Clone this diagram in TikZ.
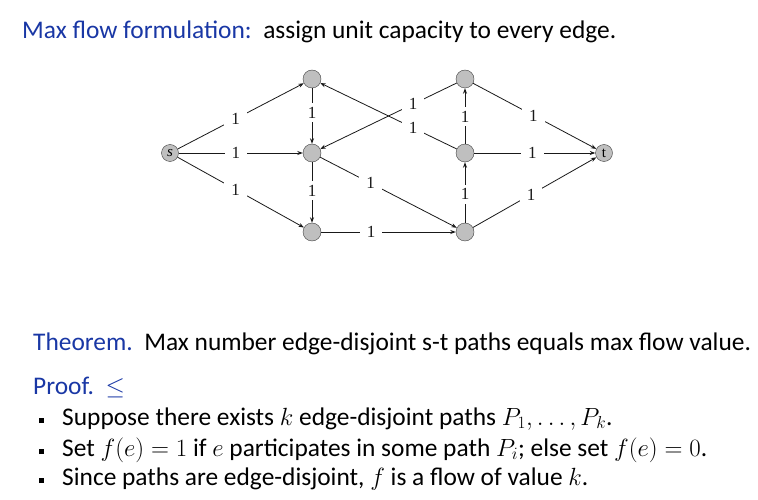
\documentclass[tikz,border=0pt]{standalone}
\usepackage{amsmath}
\usepackage{fontspec}
\setmainfont{Carlito}
\newfontfamily\lblfont{Liberation Serif}
\usetikzlibrary{arrows.meta,positioning}
\definecolor{ttlblue}{RGB}{25,55,165}
\newcommand{\sqbullet}{\makebox[23pt][l]{\rule[2pt]{4.5pt}{5pt}}}

\begin{document}
\begin{tikzpicture}[x=1pt,y=-1pt,
		vertex/.style={circle, draw=black!75, fill=gray!50, minimum size=18pt, inner sep=0pt},
		term/.style={vertex, minimum size=17pt, font=\lblfont\fontsize{15}{15}\selectfont},
		lbl/.style={fill=white, inner xsep=7pt, inner ysep=4pt, font=\lblfont\fontsize{17}{17}\selectfont},
		txt/.style={anchor=base west, inner sep=0pt, font=\fontsize{25.4}{30}\selectfont},
		every edge/.style={draw, black!90, line width=0.8pt, -{Stealth[length=5.5pt,width=4pt]}},
		]
		\useasboundingbox (0,0) rectangle (758,500);
		
		% Les textes
		\node[txt] (title) at (22,39) {\color{ttlblue}Max flow formulation:\ \ \color{black}assign unit capacity to every edge.};
		\node[txt] (thm) at (33,350) {\color{ttlblue}Theorem.\ \ \color{black}Max number edge-disjoint s-t paths equals max flow value.};
		\node[txt, text=ttlblue] (prf) at (33,394) {Proof.\ \ $\leq$};
		\node[txt] (b1) at (39,425) {\sqbullet Suppose there exists $k$ edge-disjoint paths $P_1,\dots,P_k$.};
		\node[txt] (b2) at (39,456) {\sqbullet Set $f(e)=1$ if $e$ participates in some path $P_i$; else set $f(e)=0$.};
		\node[txt] (b3) at (39,485) {\sqbullet Since paths are edge-disjoint, $f$ is a flow of value $k$.};
		
		% Les sommets
		\node[term] (S) at (170,153) {\textit{s}};
		\node[vertex] (A) at (312,79) {};
		\node[vertex] (B) at (312,153) {};
		\node[vertex] (C) at (312,232) {};
		\node[vertex] (D) at (465,79) {};
		\node[vertex] (E) at (465,153) {};
		\node[vertex] (F) at (465,232) {};
		\node[term] (T) at (604,153) {t};
		
		% Les arêtes orientées
		\path (S) edge node[lbl, pos=.46] {1} (A);
		\path (S) edge node[lbl, pos=.46] {1} (B);
		\path (S) edge node[lbl, pos=.46] {1} (C);
		\path (A) edge node[lbl, pos=.44] {1} (B);
		\path (B) edge node[lbl, pos=.47] {1} (C);
		\path (C) edge node[lbl, pos=.37] {1} (F);
		\path (B) edge node[lbl, pos=.37] {1} (F);
		\path (E) edge node[lbl, pos=.32] {1} (A);
		\path (D) edge node[lbl, pos=.32] {1} (B);
		\path (F) edge node[lbl, pos=.47] {1} (E);
		\path (E) edge node[lbl, pos=.49] {1} (D);
		\path (D) edge node[lbl, pos=.49] {1} (T);
		\path (E) edge node[lbl, pos=.48] {1} (T);
		\path (F) edge node[lbl, pos=.47] {1} (T);
	\end{tikzpicture}
\end{document}
